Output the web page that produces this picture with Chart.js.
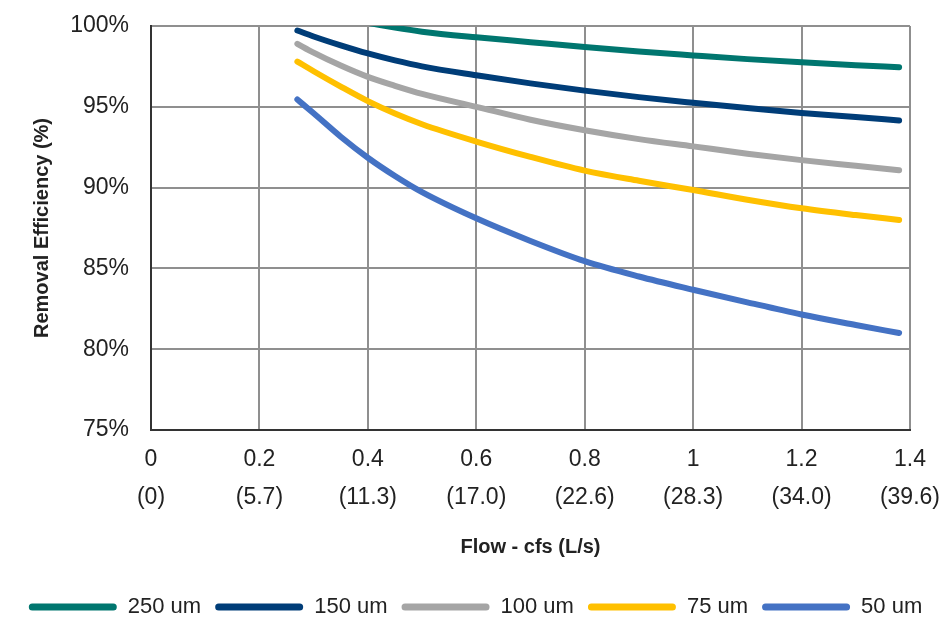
<!DOCTYPE html>
<html lang="en">
<head>
    <meta charset="UTF-8">
    <title>Removal Efficiency</title>
    <script src="https://cdn.jsdelivr.net/npm/chart.js"></script>
    <style>
        body { margin: 0; background: #fff; }
        .wrap { width: 951px; height: 619px; }
    </style>
</head>
<body>
    <div class="wrap"><canvas id="effChart"></canvas></div>

    <script>
        // flow in cfs where the curves are sampled
        const flow = [0.27, 0.3, 0.35, 0.4, 0.45, 0.5, 0.6, 0.7, 0.8, 0.9, 1.0, 1.1, 1.2, 1.3, 1.38];

        const eff250 = [101.4, 101.0, 100.55, 100.2, 99.9, 99.65, 99.3, 99.0, 98.7, 98.42, 98.18, 97.95, 97.75, 97.57, 97.45];
        const eff150 = [99.72, 99.35, 98.8, 98.3, 97.87, 97.5, 96.95, 96.45, 96.0, 95.6, 95.25, 94.92, 94.62, 94.37, 94.15];
        const eff100 = [98.9, 98.35, 97.55, 96.85, 96.3, 95.8, 95.0, 94.2, 93.55, 93.0, 92.55, 92.1, 91.7, 91.35, 91.07];
        const eff75 = [97.8, 97.2, 96.25, 95.35, 94.58, 93.92, 92.85, 91.9, 91.05, 90.42, 89.85, 89.25, 88.72, 88.3, 88.0];
        const eff50 = [95.45, 94.6, 93.15, 91.85, 90.72, 89.72, 88.1, 86.7, 85.45, 84.5, 83.68, 82.9, 82.15, 81.5, 81.0];

        const seriesNames = ['250 um', '150 um', '100 um', '75 um', '50 um'];
        const seriesColors = ['#00766F', '#003D78', '#A5A5A5', '#FFC000', '#4472C4'];

        // x axis tick labels: cfs on the first line, L/s below
        const cfsLabels = ['0', '0.2', '0.4', '0.6', '0.8', '1', '1.2', '1.4'];
        const lsLabels = ['(0)', '(5.7)', '(11.3)', '(17.0)', '(22.6)', '(28.3)', '(34.0)', '(39.6)'];

        const allSeries = [eff250, eff150, eff100, eff75, eff50];

        const datasets = allSeries.map((vals, i) => ({
            label: seriesNames[i],
            data: vals.map((v, j) => ({ x: flow[j], y: v })),
            borderColor: seriesColors[i],
            backgroundColor: seriesColors[i],
            borderWidth: 6,
            borderCapStyle: 'round',
            pointRadius: 0,
            cubicInterpolationMode: 'monotone',
            clip: i === 0 ? 0 : 6
        }));

        const gridColor = '#8F8F8F';
        const textColor = '#222';
        const font = 'Liberation Sans, Arial';

        const ctx = document.getElementById('effChart').getContext('2d');
        new Chart(ctx, {
            type: 'line',
            data: { datasets: datasets },
            options: {
                responsive: true,
                maintainAspectRatio: false,
                animation: false,
                layout: {
                    padding: { left: 0, top: 26, right: 0, bottom: -9 }
                },
                plugins: {
                    tooltip: { enabled: false },
                    legend: {
                        position: 'bottom',
                        labels: {
                            color: textColor,
                            font: { family: font, size: 22 },
                            boxWidth: 88,
                            boxHeight: 7,
                            padding: 14,
                            useBorderRadius: true,
                            borderRadius: 3.5,
                            generateLabels: (chart) => {
                                const items = Chart.defaults.plugins.legend.labels.generateLabels(chart);
                                items.forEach(it => { it.lineWidth = 0; });
                                return items;
                            }
                        }
                    }
                },
                scales: {
                    x: {
                        type: 'linear',
                        min: 0,
                        max: 1.4,
                        afterFit: (scale) => { scale.height = 152; },
                        ticks: {
                            stepSize: 0.2,
                            padding: 11,
                            maxRotation: 0,
                            autoSkip: false,
                            color: textColor,
                            font: { family: font, size: 23, lineHeight: 1.65 },
                            callback: (value, index) => [cfsLabels[index], lsLabels[index]]
                        },
                        grid: { color: gridColor, lineWidth: 2, drawTicks: false },
                        border: { color: '#333', width: 2 },
                        title: {
                            display: true,
                            text: 'Flow - cfs (L/s)',
                            color: textColor,
                            font: { family: font, size: 20, weight: 'bold', lineHeight: 1.2 },
                            padding: { top: 23, bottom: 23 }
                        }
                    },
                    y: {
                        min: 75,
                        max: 100,
                        afterFit: (scale) => { scale.width = 151; },
                        ticks: {
                            stepSize: 5,
                            padding: 0,
                            color: textColor,
                            font: { family: font, size: 23 },
                            callback: (value) => value + '%'
                        },
                        // invisible tick marks give the gap between labels and axis
                        grid: { color: gridColor, lineWidth: 2, drawTicks: true, tickLength: 22, tickColor: 'rgba(0,0,0,0)' },
                        border: { color: '#333', width: 2 },
                        title: {
                            display: true,
                            text: 'Removal Efficiency (%)',
                            color: textColor,
                            font: { family: font, size: 20, weight: 'bold', lineHeight: 1.2 },
                            padding: { top: 30, bottom: 30 }
                        }
                    },
                    // empty axis that only keeps a margin right of the plot
                    yRight: {
                        position: 'right',
                        min: 75,
                        max: 100,
                        afterFit: (scale) => { scale.width = 37; },
                        grid: { display: false, drawTicks: false },
                        border: { display: false },
                        ticks: { display: false }
                    }
                }
            }
        });
    </script>
</body>
</html>
